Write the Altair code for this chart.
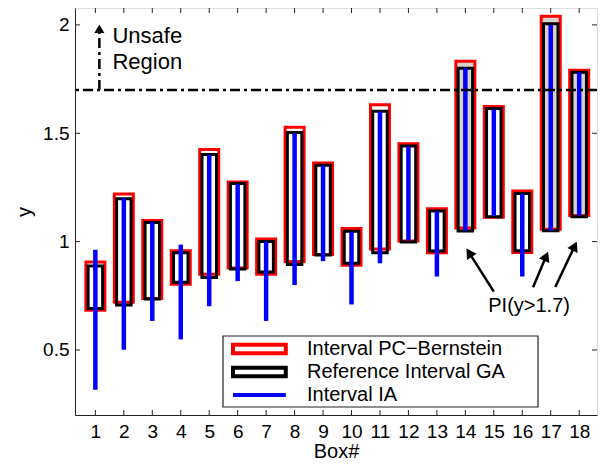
import math
import altair as alt
import pandas as pd

# ---------------- data ----------------
BOX = list(range(1, 19))
PC_HI = [0.906, 1.22, 1.097, 0.958, 1.425, 1.275, 1.012, 1.528, 1.363, 1.06,
         1.631, 1.452, 1.152, 1.832, 1.623, 1.234, 2.04, 1.791]
PC_LO = [0.683, 0.72, 0.737, 0.803, 0.85, 0.878, 0.85, 0.908, 0.941, 0.891,
         0.966, 1.003, 0.949, 1.063, 1.112, 0.95, 1.057, 1.121]
GA_HI = [0.887, 1.198, 1.088, 0.949, 1.402, 1.268, 1.001, 1.503, 1.352, 1.048,
         1.602, 1.441, 1.141, 1.80, 1.614, 1.222, 2.005, 1.782]
GA_LO = [0.691, 0.707, 0.735, 0.812, 0.835, 0.874, 0.86, 0.895, 0.938, 0.90,
         0.949, 0.998, 0.957, 1.049, 1.115, 0.958, 1.05, 1.115]
IA_HI = [0.963, 1.20, 1.09, 0.986, 1.40, 1.265, 1.0, 1.5, 1.35, 1.045,
         1.60, 1.44, 1.14, 1.80, 1.61, 1.22, 2.0, 1.78]
IA_LO = [0.317, 0.501, 0.634, 0.549, 0.702, 0.818, 0.634, 0.80, 0.91, 0.71,
         0.90, 1.006, 0.839, 1.05, 1.12, 0.839, 1.05, 1.12]

LEGEND_LABELS = ["Interval PC\u2212Bernstein", "Reference Interval GA", "Interval IA"]
THRESHOLD = 1.7
X_TICKS = BOX
Y_TICKS = [0.5, 1, 1.5, 2]

# annotations (data units)
UNSAFE_X = [1.14]
UNSAFE_Y0 = [1.7]
UNSAFE_Y1 = [2.01]
UNSAFE_TEXT = ["Unsafe", "Region"]
UNSAFE_TEXT_X = [1.6, 1.6]
UNSAFE_TEXT_Y = [1.949, 1.829]
PI_TEXT = ["PI(y>1.7)"]
PI_TEXT_X = [16.24]
PI_TEXT_Y = [0.703]
ARROW_X0 = [15.0, 16.38, 17.16]
ARROW_Y0 = [0.769, 0.789, 0.791]
ARROW_X1 = [14.02, 16.92, 17.93]
ARROW_Y1 = [0.972, 0.958, 1.004]

# ---------------- layout ----------------
W, H = 522, 407
XMIN, XMAX = 0.46, 18.45
YMIN, YMAX = 0.2, 2.078
KX = W / (XMAX - XMIN)
KY = H / (YMAX - YMIN)
FONT = "Liberation Sans"
FS = 19
FS_TXT = 20
GRAY = "#d6d3ce"
DASH = [10, 4, 3, 4]
FRAME = "#222222"
LEG_X, LEG_Y, LEG_W, LEG_H = 148, 328, 315, 71

df = pd.DataFrame({"box": BOX, "pc_hi": PC_HI, "pc_lo": PC_LO, "ga_hi": GA_HI,
                   "ga_lo": GA_LO, "ia_hi": IA_HI, "ia_lo": IA_LO})

xscale = alt.Scale(domain=[XMIN, XMAX], nice=False, zero=False)
yscale = alt.Scale(domain=[YMIN, YMAX], nice=False, zero=False)

xaxis = alt.Axis(values=X_TICKS, ticks=False, domain=True, domainColor=FRAME, grid=False,
                 labelFontSize=FS, labelFont=FONT, labelColor="black",
                 labelPadding=7, labelFlush=False, labelOverlap=False,
                 titleFontSize=FS_TXT, titleFont=FONT, titleFontWeight="normal",
                 titleColor="black", titlePadding=0)
yaxis = alt.Axis(values=Y_TICKS, ticks=False, domain=True, domainColor=FRAME, grid=False,
                 format="~g",
                 labelFontSize=FS, labelFont=FONT, labelColor="black",
                 labelPadding=6, labelFlush=False,
                 titleFontSize=FS_TXT, titleFont=FONT, titleFontWeight="normal",
                 titleColor="black", titlePadding=8)


def X(field):
    return alt.X(field, type="quantitative", scale=xscale, axis=xaxis, title="Box#")


def Y(field):
    return alt.Y(field, type="quantitative", scale=yscale, axis=yaxis, title="y")


base = alt.Chart(df)

red = base.mark_bar(size=19, stroke="red", strokeWidth=3).encode(
    x=X("box"), y=Y("pc_lo"), y2="pc_hi",
    fill=alt.when(alt.datum.pc_hi > THRESHOLD).then(alt.value(GRAY)).otherwise(alt.value("white")),
)
black = base.mark_bar(size=14.5, stroke="black", strokeWidth=3, fill="transparent").encode(
    x=X("box"), y=Y("ga_lo"), y2="ga_hi")
blue = base.mark_rule(color="blue", strokeWidth=4.5).encode(
    x=X("box"), y=Y("ia_lo"), y2="ia_hi")

thr = alt.Chart(pd.DataFrame({"t": [THRESHOLD]})).mark_rule(
    color="black", strokeWidth=2.5, strokeDash=DASH).encode(y=Y("t"))

# unsafe arrow
u_df = pd.DataFrame({"x": UNSAFE_X, "y0": UNSAFE_Y0,
                     "y1": [UNSAFE_Y1[0] - 8 / KY], "yh": [UNSAFE_Y1[0] - 6 / KY], "a": [0]})
u_line = alt.Chart(u_df).mark_rule(color="black", strokeWidth=2.5, strokeDash=DASH).encode(
    x=X("x"), y=Y("y0"), y2="y1")
u_head = alt.Chart(u_df).mark_point(shape="triangle-up", filled=True, size=100,
                                    color="black", opacity=1).encode(
    x=X("x"), y=Y("yh"), angle=alt.Angle("a:Q", scale=None))
u_text = alt.Chart(pd.DataFrame({"x": UNSAFE_TEXT_X, "y": UNSAFE_TEXT_Y, "t": UNSAFE_TEXT})).mark_text(
    align="left", baseline="middle", fontSize=22, font=FONT, color="black").encode(
    x=X("x"), y=Y("y"), text="t:N")

# PI arrows
rows = []
for xs, ys, xt, yt in zip(ARROW_X0, ARROW_Y0, ARROW_X1, ARROW_Y1):
    dxp = (xt - xs) * KX
    dyp = -(yt - ys) * KY
    L = math.hypot(dxp, dyp)
    ux, uy = dxp / L, dyp / L
    ang = math.degrees(math.atan2(ux, -uy)) % 360
    back = 6
    rows.append({"x0": xs, "y0": ys,
                 "x1": xt - 8 * ux / KX, "y1": yt + 8 * uy / KY,
                 "xh": xt - back * ux / KX, "yh": yt + back * uy / KY, "a": ang})
a_df = pd.DataFrame(rows)
a_line = alt.Chart(a_df).mark_rule(color="black", strokeWidth=2.5).encode(
    x=X("x0"), y=Y("y0"), x2="x1", y2="y1")
a_head = alt.Chart(a_df).mark_point(shape="triangle-up", filled=True, size=130,
                                    color="black", opacity=1).encode(
    x=X("xh"), y=Y("yh"), angle=alt.Angle("a:Q", scale=None))
pi_text = alt.Chart(pd.DataFrame({"x": PI_TEXT_X, "y": PI_TEXT_Y, "t": PI_TEXT})).mark_text(
    align="center", baseline="middle", fontSize=FS_TXT, font=FONT, color="black").encode(
    x=X("x"), y=Y("y"), text="t:N")

# inward ticks
xt_df = pd.DataFrame({"v": X_TICKS})
yt_df = pd.DataFrame({"v": Y_TICKS})
tick_style = dict(color=FRAME, strokeWidth=1)
xt_bot = alt.Chart(xt_df).mark_rule(**tick_style).encode(
    x=X("v"), y=alt.value(H), y2=alt.value(H - 5))
xt_top = alt.Chart(xt_df).mark_rule(**tick_style).encode(
    x=X("v"), y=alt.value(0), y2=alt.value(5))
yt_left = alt.Chart(yt_df).mark_rule(**tick_style).encode(
    y=Y("v"), x=alt.value(0), x2=alt.value(5))
yt_right = alt.Chart(yt_df).mark_rule(**tick_style).encode(
    y=Y("v"), x=alt.value(W), x2=alt.value(W - 5))

# legend frame (styling box behind the legend entries)
leg_box = alt.Chart(pd.DataFrame({"k": [0]})).mark_rect(
    fill="white", stroke=FRAME, strokeWidth=1.2).encode(
    x=alt.value(LEG_X), x2=alt.value(LEG_X + LEG_W),
    y=alt.value(LEG_Y), y2=alt.value(LEG_Y + LEG_H))

# legend: symbol paths stretch to the right of the nominal symbol box
SYM = 6.0
RECT_PATH = "M-1,-0.7H7.8V0.7H-1Z"
LINE_PATH = "M-1,0H7.8"
leg = alt.Legend(title=None, orient="none", legendX=LEG_X + 3, legendY=LEG_Y,
                 labelFontSize=FS_TXT, labelFont=FONT, labelColor="black",
                 symbolSize=(2 * SYM) ** 2, symbolStrokeWidth=4, labelOffset=58,
                 rowPadding=-3, padding=3, strokeColor="transparent",
                 fillColor="transparent", labelLimit=400, symbolOpacity=1)
leg_layer = alt.Chart(pd.DataFrame({"series": LEGEND_LABELS})).mark_point(
    filled=False, size=0, opacity=1).encode(
    color=alt.Color("series:N", scale=alt.Scale(domain=LEGEND_LABELS, range=["red", "black", "blue"]),
                    legend=leg),
    shape=alt.Shape("series:N", scale=alt.Scale(domain=LEGEND_LABELS,
                                                range=[RECT_PATH, RECT_PATH, LINE_PATH]),
                    legend=leg),
)

chart = alt.layer(
    red, black, blue, thr, u_line, u_head, u_text, a_line, a_head, pi_text,
    xt_bot, xt_top, yt_left, yt_right, leg_box, leg_layer
).properties(
    width=W, height=H,
    autosize=alt.AutoSizeParams(type="none"),
    padding={"left": 67, "top": 0, "right": 3, "bottom": 46},
).configure_view(
    stroke=FRAME, strokeWidth=1
).configure(background="white")

chart.save("out.html", embed_options={"renderer": "svg", "actions": False})
